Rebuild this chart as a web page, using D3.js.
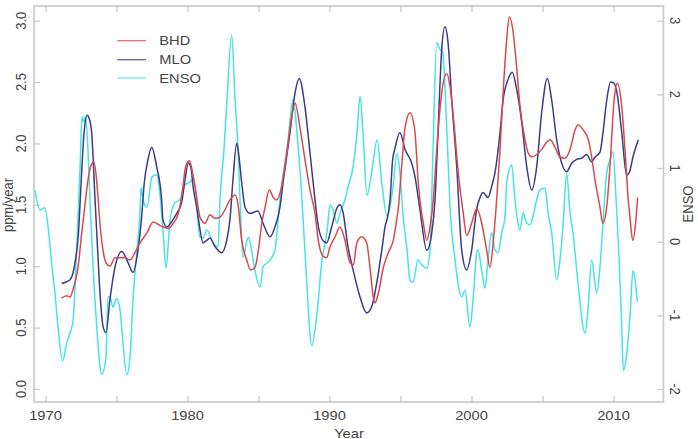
<!DOCTYPE html>
<html><head><meta charset="utf-8">
<script src="https://cdn.jsdelivr.net/npm/d3@7"></script>
<style>
body{margin:0;background:#fff}
svg{display:block}
text{font-family:"Liberation Sans",Arial,Helvetica,sans-serif;fill:#444;font-size:13px}
</style>
</head><body>
<svg id="chart" width="698" height="439"></svg>
<script>
// ---------- data ----------
const bhdYears = [1971.14,1971.49,1971.73,1971.94,1972.29,1972.55,1972.78,1972.99,1973.20,1973.42,1973.63,1973.84,1974.05,1974.30,1974.54,1974.89,1975.25,1975.60,1975.95,1976.30,1976.65,1977.13,1977.59,1977.94,1978.30,1978.65,1979.00,1979.35,1979.60,1979.89,1980.13,1980.41,1980.65,1980.88,1981.23,1981.58,1981.94,1982.29,1982.64,1982.99,1983.35,1983.56,1983.82,1984.17,1984.45,1984.75,1984.99,1985.23,1985.46,1985.76,1986.04,1986.28,1986.63,1986.99,1987.34,1987.57,1987.92,1988.27,1988.63,1988.98,1989.21,1989.56,1989.80,1990.04,1990.39,1990.74,1991.09,1991.44,1991.68,1991.92,1992.27,1992.62,1992.85,1993.08,1993.20,1993.44,1993.79,1994.14,1994.49,1994.73,1994.85,1995.08,1995.32,1995.67,1996.02,1996.25,1996.49,1996.61,1996.85,1997.08,1997.31,1997.55,1997.90,1998.25,1998.49,1998.72,1999.07,1999.42,1999.66,2000.01,2000.37,2000.72,2001.07,2001.30,2001.54,2001.77,2002.01,2002.24,2002.48,2002.66,2002.94,2003.18,2003.42,2003.77,2004.00,2004.24,2004.59,2004.94,2005.30,2005.53,2005.88,2006.23,2006.58,2006.94,2007.29,2007.52,2007.87,2008.23,2008.46,2008.70,2009.05,2009.24,2009.52,2009.75,2010.04,2010.27,2010.58,2010.81,2011.04,2011.16,2011.35,2011.58,2011.70];
const bhdValues = [0.74,0.76,0.75,0.81,0.99,1.27,1.50,1.70,1.82,1.85,1.66,1.34,1.13,1.02,1.00,1.07,1.07,1.07,1.05,1.11,1.19,1.27,1.36,1.34,1.32,1.31,1.35,1.43,1.58,1.82,1.86,1.73,1.56,1.40,1.35,1.42,1.39,1.40,1.46,1.54,1.58,1.50,1.21,1.05,0.97,0.99,1.13,1.35,1.48,1.62,1.56,1.54,1.65,1.92,2.22,2.33,2.13,1.87,1.62,1.43,1.21,1.08,1.07,1.16,1.24,1.32,1.21,1.03,1.01,1.19,1.24,1.19,0.99,0.75,0.70,0.78,0.99,1.11,1.21,1.38,1.48,1.81,2.13,2.25,2.09,1.68,1.43,1.35,1.21,1.32,1.54,1.95,2.41,2.57,2.46,2.22,1.76,1.43,1.25,1.35,1.47,1.35,1.13,0.99,1.21,1.54,1.95,2.44,2.85,3.03,2.90,2.62,2.30,2.03,1.92,1.89,1.91,1.95,2.01,2.03,1.97,1.89,1.88,1.95,2.11,2.15,2.11,2.03,1.89,1.70,1.48,1.35,1.48,1.81,2.35,2.49,2.30,1.95,1.54,1.40,1.21,1.38,1.56];

const mloYears = [1971.14,1971.73,1972.08,1972.31,1972.50,1972.71,1972.94,1973.06,1973.25,1973.49,1973.61,1973.84,1974.05,1974.26,1974.54,1974.89,1975.37,1975.81,1976.16,1976.51,1976.77,1976.94,1977.22,1977.48,1977.83,1978.18,1978.27,1978.54,1978.98,1979.24,1979.59,1979.82,1980.06,1980.25,1980.39,1980.65,1980.88,1981.09,1981.35,1981.58,1981.94,1982.41,1982.76,1982.99,1983.20,1983.46,1983.56,1983.82,1984.05,1984.40,1984.96,1985.32,1985.81,1986.16,1986.51,1986.73,1987.22,1987.57,1987.87,1988.27,1988.63,1988.98,1989.19,1989.54,1989.80,1990.15,1990.51,1990.74,1990.95,1991.30,1991.66,1992.15,1992.62,1992.97,1993.32,1993.68,1993.91,1994.14,1994.26,1994.44,1994.61,1994.96,1995.32,1995.79,1996.02,1996.37,1996.85,1997.20,1997.43,1997.64,1997.90,1998.13,1998.35,1998.61,1998.96,1999.31,1999.66,2000.01,2000.37,2000.60,2000.81,2001.16,2001.42,2001.65,2002.01,2002.22,2002.57,2002.87,2003.18,2003.54,2003.89,2004.24,2004.59,2004.94,2005.34,2005.65,2006.00,2006.35,2006.70,2007.06,2007.41,2007.76,2008.11,2008.46,2008.70,2009.05,2009.26,2009.52,2009.80,2010.04,2010.25,2010.58,2010.93,2011.16,2011.37,2011.75];
const mloValues = [0.86,0.89,1.03,1.25,1.66,2.08,2.23,2.21,2.09,1.54,1.27,0.78,0.51,0.46,0.73,0.99,1.12,1.03,0.95,1.13,1.40,1.66,1.87,1.97,1.81,1.54,1.38,1.32,1.38,1.43,1.52,1.70,1.84,1.80,1.65,1.48,1.30,1.19,1.21,1.23,1.16,1.11,1.21,1.38,1.70,2.00,1.95,1.68,1.48,1.43,1.45,1.35,1.24,1.32,1.48,1.68,2.09,2.41,2.53,2.30,1.92,1.54,1.34,1.21,1.19,1.32,1.47,1.50,1.44,1.16,0.97,0.75,0.62,0.67,0.86,1.13,1.32,1.43,1.54,1.86,1.96,2.09,1.95,1.84,1.73,1.46,1.13,1.27,1.54,2.09,2.76,2.95,2.82,2.35,1.81,1.13,0.97,1.13,1.47,1.56,1.60,1.56,1.65,1.76,2.09,2.35,2.52,2.58,2.44,2.17,1.81,1.62,1.81,2.25,2.53,2.35,2.03,1.84,1.77,1.84,1.87,1.88,1.91,1.85,1.89,1.93,2.09,2.35,2.50,2.49,2.41,2.09,1.74,1.78,1.89,2.03];

const ensoYears = [1969.26,1969.61,1969.96,1970.18,1970.46,1970.67,1970.88,1971.21,1971.49,1971.73,1971.94,1972.22,1972.43,1972.57,1972.70,1972.80,1972.99,1973.13,1973.35,1973.61,1973.84,1973.96,1974.26,1974.40,1974.54,1974.75,1975.01,1975.25,1975.46,1975.72,1975.95,1976.16,1976.44,1976.65,1976.73,1976.87,1977.15,1977.50,1977.83,1978.06,1978.27,1978.49,1978.77,1979.12,1979.47,1979.82,1980.18,1980.46,1980.88,1981.09,1981.37,1981.80,1982.15,1982.29,1982.57,1982.78,1983.11,1983.35,1983.56,1983.70,1983.91,1984.19,1984.30,1984.54,1984.75,1985.11,1985.32,1985.60,1985.81,1986.16,1986.51,1987.08,1987.43,1987.71,1988.06,1988.35,1988.75,1989.12,1989.47,1989.82,1990.04,1990.25,1990.53,1990.74,1991.09,1991.30,1991.66,1991.94,1992.15,1992.36,1992.64,1993.00,1993.35,1993.70,1994.05,1994.47,1994.75,1994.96,1995.18,1995.46,1995.67,1995.88,1996.23,1996.51,1996.86,1997.08,1997.29,1997.55,1997.78,1997.97,1998.27,1998.49,1998.84,1999.31,1999.54,1999.89,2000.11,2000.37,2000.46,2000.72,2000.95,2001.16,2001.42,2001.65,2001.87,2002.13,2002.36,2002.48,2002.83,2003.06,2003.42,2003.63,2003.89,2004.12,2004.33,2004.59,2004.82,2005.18,2005.39,2005.65,2006.00,2006.23,2006.44,2006.70,2006.94,2007.15,2007.50,2007.99,2008.20,2008.46,2008.82,2009.05,2009.26,2009.52,2009.75,2009.96,2010.17,2010.38,2010.56,2010.70,2010.93,2011.16,2011.37,2011.58,2011.68];
const ensoValues = [0.70,0.43,0.46,0.20,-0.34,-0.70,-1.16,-1.62,-1.38,-1.24,-1.07,0.02,0.98,1.70,1.62,1.70,1.25,0.57,-0.34,-1.16,-1.70,-1.80,-1.57,-0.75,-0.75,-0.89,-0.77,-0.93,-1.38,-1.81,-1.57,-0.79,-0.11,0.39,0.74,0.57,0.47,0.88,0.91,0.64,0.16,-0.36,0.30,0.53,0.57,0.77,0.81,0.84,0.06,0.05,0.16,-0.02,-0.07,0.57,1.25,1.93,2.81,1.93,1.25,0.57,-0.21,0.02,0.06,-0.15,-0.39,-0.62,-0.34,-0.29,-0.25,-0.11,0.57,1.38,1.93,1.48,0.57,-0.39,-1.41,-0.97,-0.25,0.12,0.50,0.43,0.25,0.39,0.57,0.74,1.02,1.48,1.97,1.48,0.63,0.98,1.38,0.77,0.35,0.74,1.20,0.93,0.36,-0.11,-0.52,-0.55,-0.25,-0.32,-0.36,-0.11,1.25,2.70,2.61,2.57,1.48,0.47,-0.25,-0.75,-0.66,-1.16,-0.79,-0.15,-0.11,-0.39,-0.63,-0.25,0.12,-0.11,-0.15,0.12,0.34,0.80,1.04,0.57,0.16,0.39,0.25,0.23,0.34,0.57,0.70,0.73,0.39,0.12,-0.52,-0.25,0.20,0.93,0.39,0.12,-0.56,-1.24,-0.93,-0.25,-0.70,-0.34,0.25,0.93,1.11,1.22,0.63,-0.18,-1.07,-1.75,-1.52,-1.02,-0.39,-0.62,-0.82];

const seriesNames = ["BHD","MLO","ENSO"];
const seriesColors = ["#d9494c","#3b3b86","#48e3e3"];
const xTicks = [1970,1975,1980,1985,1990,1995,2000,2005,2010];
const xLabels = [1970,1980,1990,2000,2010];
const leftTicks = [0,0.5,1,1.5,2,2.5,3];
const rightTicks = [-2,-1,0,1,2,3];

// ---------- layout ----------
const svg = d3.select("#chart");
const box = {l:34, r:663.5, t:6, b:402};
const SX = 1.13; // horizontal stretch of the original raster text

const x = d3.scaleLinear().domain([1970,2010]).range([45.5,613.5]);
const yL = d3.scaleLinear().domain([0,3]).range([389,20.7]);
const yR = d3.scaleLinear().domain([-2,3]).range([389,20.7]);

const axisColor = "#c9c9c9";

function styleAxis(g){
  g.select(".domain").remove();
  g.selectAll(".tick line").attr("stroke",axisColor).attr("stroke-width",1.3);
  g.selectAll(".tick text").remove();
}
svg.append("g").attr("transform",`translate(0,${box.b})`)
  .call(d3.axisBottom(x).tickValues(xTicks).tickSizeInner(-6).tickSizeOuter(0).tickFormat(""))
  .call(styleAxis);
svg.append("g").attr("transform",`translate(0,${box.t})`)
  .call(d3.axisTop(x).tickValues(xTicks).tickSizeInner(-6).tickSizeOuter(0).tickFormat(""))
  .call(styleAxis);
svg.append("g").attr("transform",`translate(${box.l},0)`)
  .call(d3.axisLeft(yL).tickValues(leftTicks).tickSizeInner(-6).tickSizeOuter(0).tickFormat(""))
  .call(styleAxis);
svg.append("g").attr("transform",`translate(${box.r},0)`)
  .call(d3.axisRight(yR).tickValues(rightTicks).tickSizeInner(-6).tickSizeOuter(0).tickFormat(""))
  .call(styleAxis);

svg.append("rect").attr("x",box.l).attr("y",box.t)
  .attr("width",box.r-box.l).attr("height",box.b-box.t)
  .attr("fill","none").attr("stroke",axisColor).attr("stroke-width",1.6);

function label(px,py,str,rot,anchor,size){
  svg.append("text")
    .attr("transform",`translate(${px},${py}) scale(${SX},1)`+(rot?` rotate(${rot})`:""))
    .attr("text-anchor",anchor||"middle")
    .style("font-size",(size||13)+"px")
    .text(str);
}
xLabels.forEach(t=>label(x(t),420,String(t),0,"middle"));
leftTicks.forEach(v=>label(25.5,yL(v),v.toFixed(1),-90,"middle"));
rightTicks.forEach(v=>label(670,yR(v),String(v),90,"middle"));
label(349,437.5,"Year",0,"middle");
label(13,205,"ppm/year",-90,"middle");
label(693,204,"ENSO",-90,"middle");

// ---------- lines ----------
const clip = svg.append("clipPath").attr("id","clip").append("rect")
  .attr("x",box.l).attr("y",box.t).attr("width",box.r-box.l).attr("height",box.b-box.t);
const plot = svg.append("g").attr("clip-path","url(#clip)");

function drawLine(years,values,yScale,color){
  const pts = years.map((yr,i)=>[yr,values[i]]);
  const line = d3.line().x(d=>x(d[0])).y(d=>yScale(d[1])).curve(d3.curveMonotoneX);
  plot.append("path").datum(pts).attr("d",line)
    .attr("fill","none").attr("stroke",color).attr("stroke-width",1.5)
    .attr("stroke-linejoin","round");
}
drawLine(ensoYears,ensoValues,yR,seriesColors[2]);
drawLine(mloYears,mloValues,yL,seriesColors[1]);
drawLine(bhdYears,bhdValues,yL,seriesColors[0]);

// ---------- legend ----------
const legY = [40.7,59.7,78];
seriesNames.forEach((n,i)=>{
  svg.append("line").attr("x1",117.3).attr("x2",146).attr("y1",legY[i]).attr("y2",legY[i])
    .attr("stroke",seriesColors[i]).attr("stroke-width",1.3).attr("opacity",0.8);
  label(159.3,legY[i]+4.6,n,0,"start");
});
</script>
</body></html>
